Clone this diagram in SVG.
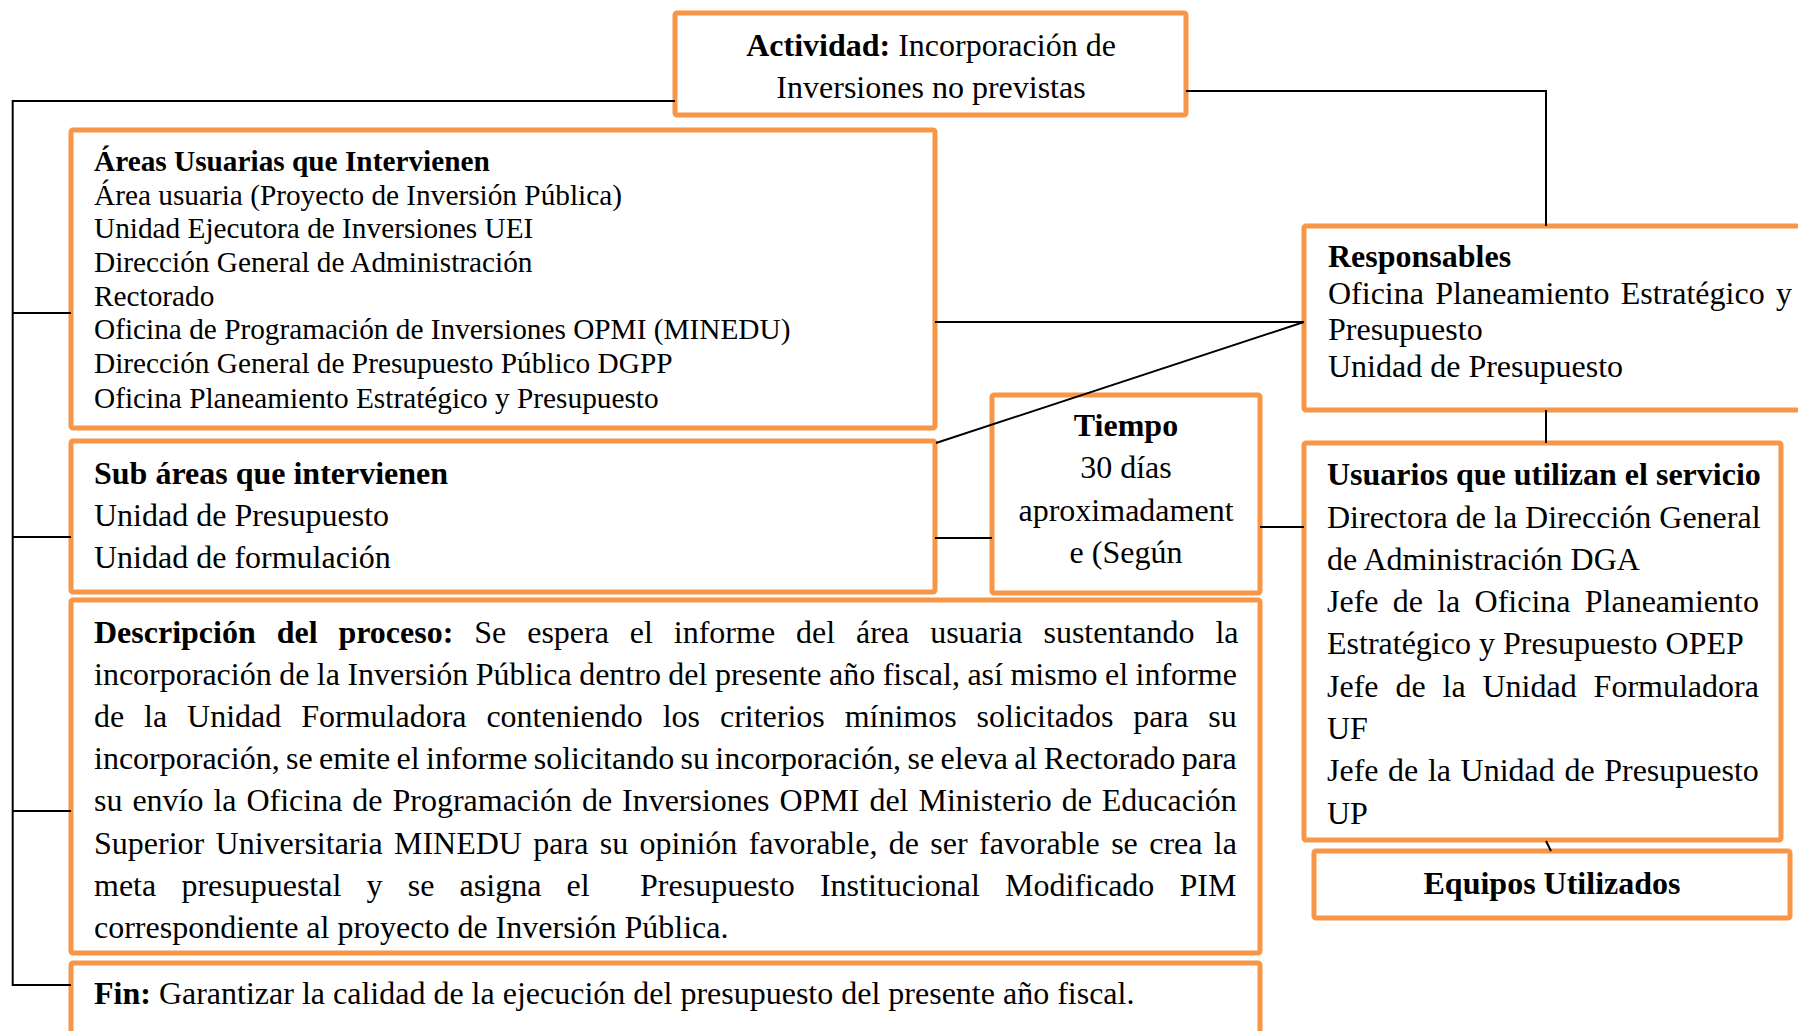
<svg xmlns="http://www.w3.org/2000/svg" width="1798" height="1031" viewBox="0 0 1798 1031">
<style>
.box{fill:#fff;stroke:#F79646;stroke-width:5}
.conn{stroke:#000;stroke-width:2;fill:none}
text{font-family:"Liberation Serif","Times New Roman",serif;font-size:32px;fill:#000}
.s{font-size:29.3px}
.b{font-weight:bold}
.c{text-anchor:middle}
</style>
<rect width="1798" height="1031" fill="#fff"/>
<g id="actividad">
<rect class="box" x="675" y="13" width="511" height="102" rx="2"/>
<text class="c" x="931" y="55.5"><tspan class="b">Actividad:</tspan> Incorporación de</text>
<text class="c" x="931" y="97.5">Inversiones no previstas</text>
</g>
<g id="areas">
<rect class="box" x="71" y="130" width="864" height="298" rx="2"/>
<text class="s b" x="94" y="171">Áreas Usuarias que Intervienen</text>
<text class="s" x="94" y="204.6">Área usuaria (Proyecto de Inversión Pública)</text>
<text class="s" x="94" y="238.3">Unidad Ejecutora de Inversiones UEI</text>
<text class="s" x="94" y="272">Dirección General de Administración</text>
<text class="s" x="94" y="305.7">Rectorado</text>
<text class="s" x="94" y="339.4">Oficina de Programación de Inversiones OPMI (MINEDU)</text>
<text class="s" x="94" y="373">Dirección General de Presupuesto Público DGPP</text>
<text class="s" x="94" y="407.5">Oficina Planeamiento Estratégico y Presupuesto</text>
</g>
<g id="subareas">
<rect class="box" x="71" y="441" width="864" height="151" rx="2"/>
<text class="b" x="94" y="483.5">Sub áreas que intervienen</text>
<text x="94" y="525.5">Unidad de Presupuesto</text>
<text x="94" y="567.5">Unidad de formulación</text>
</g>
<g id="tiempo">
<rect class="box" x="992" y="395" width="268" height="198" rx="2"/>
<text class="c b" x="1126" y="436">Tiempo</text>
<text class="c" x="1126" y="478">30 días</text>
<text class="c" x="1126" y="521">aproximadament</text>
<text class="c" x="1126" y="563">e (Según</text>
</g>
<g id="descripcion">
<rect class="box" x="71" y="600" width="1189" height="353" rx="2"/>
<text x="94" y="642.5" word-spacing="12.9"><tspan class="b">Descripción del proceso:</tspan> Se espera el informe del área usuaria sustentando la</text>
<text x="94" y="684.5" word-spacing="-0.54">incorporación de la Inversión Pública dentro del presente año fiscal, así mismo el informe</text>
<text x="94" y="726.5" word-spacing="11.9">de la Unidad Formuladora conteniendo los criterios mínimos solicitados para su</text>
<text x="94" y="769" word-spacing="-1.62">incorporación, se emite el informe solicitando su incorporación, se eleva al Rectorado para</text>
<text x="94" y="811" word-spacing="1.93">su envío la Oficina de Programación de Inversiones OPMI del Ministerio de Educación</text>
<text x="94" y="853.5" word-spacing="3.35">Superior Universitaria MINEDU para su opinión favorable, de ser favorable se crea la</text>
<text x="94" y="895.5" word-spacing="17.2">meta presupuestal y se asigna el&#160; Presupuesto Institucional Modificado PIM</text>
<text x="94" y="937.5">correspondiente al proyecto de Inversión Pública.</text>
</g>
<g id="fin">
<rect class="box" x="71" y="963" width="1189" height="90" rx="2"/>
<text x="94" y="1003.5"><tspan class="b">Fin:</tspan> Garantizar la calidad de la ejecución del presupuesto del presente año fiscal.</text>
</g>
<g id="responsables">
<rect class="box" x="1304" y="226" width="520" height="184" rx="2"/>
<text class="b" x="1328" y="267">Responsables</text>
<text x="1328" y="303.5" word-spacing="3.3">Oficina Planeamiento Estratégico y</text>
<text x="1328" y="340">Presupuesto</text>
<text x="1328" y="376.5">Unidad de Presupuesto</text>
</g>
<g id="usuarios">
<rect class="box" x="1304" y="443" width="477" height="397" rx="2"/>
<text class="b" x="1327" y="485">Usuarios que utilizan el servicio</text>
<text x="1327" y="528">Directora de la Dirección General</text>
<text x="1327" y="570">de Administración DGA</text>
<text x="1327" y="612" word-spacing="6.25">Jefe de la Oficina Planeamiento</text>
<text x="1327" y="654">Estratégico y Presupuesto OPEP</text>
<text x="1327" y="697" word-spacing="8.9">Jefe de la Unidad Formuladora</text>
<text x="1327" y="739">UF</text>
<text x="1327" y="781" word-spacing="1.6">Jefe de la Unidad de Presupuesto</text>
<text x="1327" y="824">UP</text>
</g>
<g id="equipos">
<rect class="box" x="1314" y="851" width="476" height="67" rx="2"/>
<text class="c b" x="1552" y="894">Equipos Utilizados</text>
</g>
<g id="connectors">
<polyline class="conn" points="675,101 12.7,101 12.7,985 71,985"/>
<line class="conn" x1="12.7" y1="313" x2="71" y2="313"/>
<line class="conn" x1="12.7" y1="537" x2="71" y2="537"/>
<line class="conn" x1="12.7" y1="811" x2="71" y2="811"/>
<polyline class="conn" points="1186,91 1546,91 1546,226"/>
<line class="conn" x1="935" y1="322" x2="1304" y2="322"/>
<line class="conn" x1="936" y1="443" x2="1304" y2="322"/>
<line class="conn" x1="935" y1="538" x2="992" y2="538"/>
<line class="conn" x1="1260" y1="527" x2="1304" y2="527"/>
<line class="conn" x1="1546" y1="410" x2="1546" y2="443"/>
<line class="conn" x1="1546" y1="841" x2="1551" y2="851"/>
</g>
</svg>
